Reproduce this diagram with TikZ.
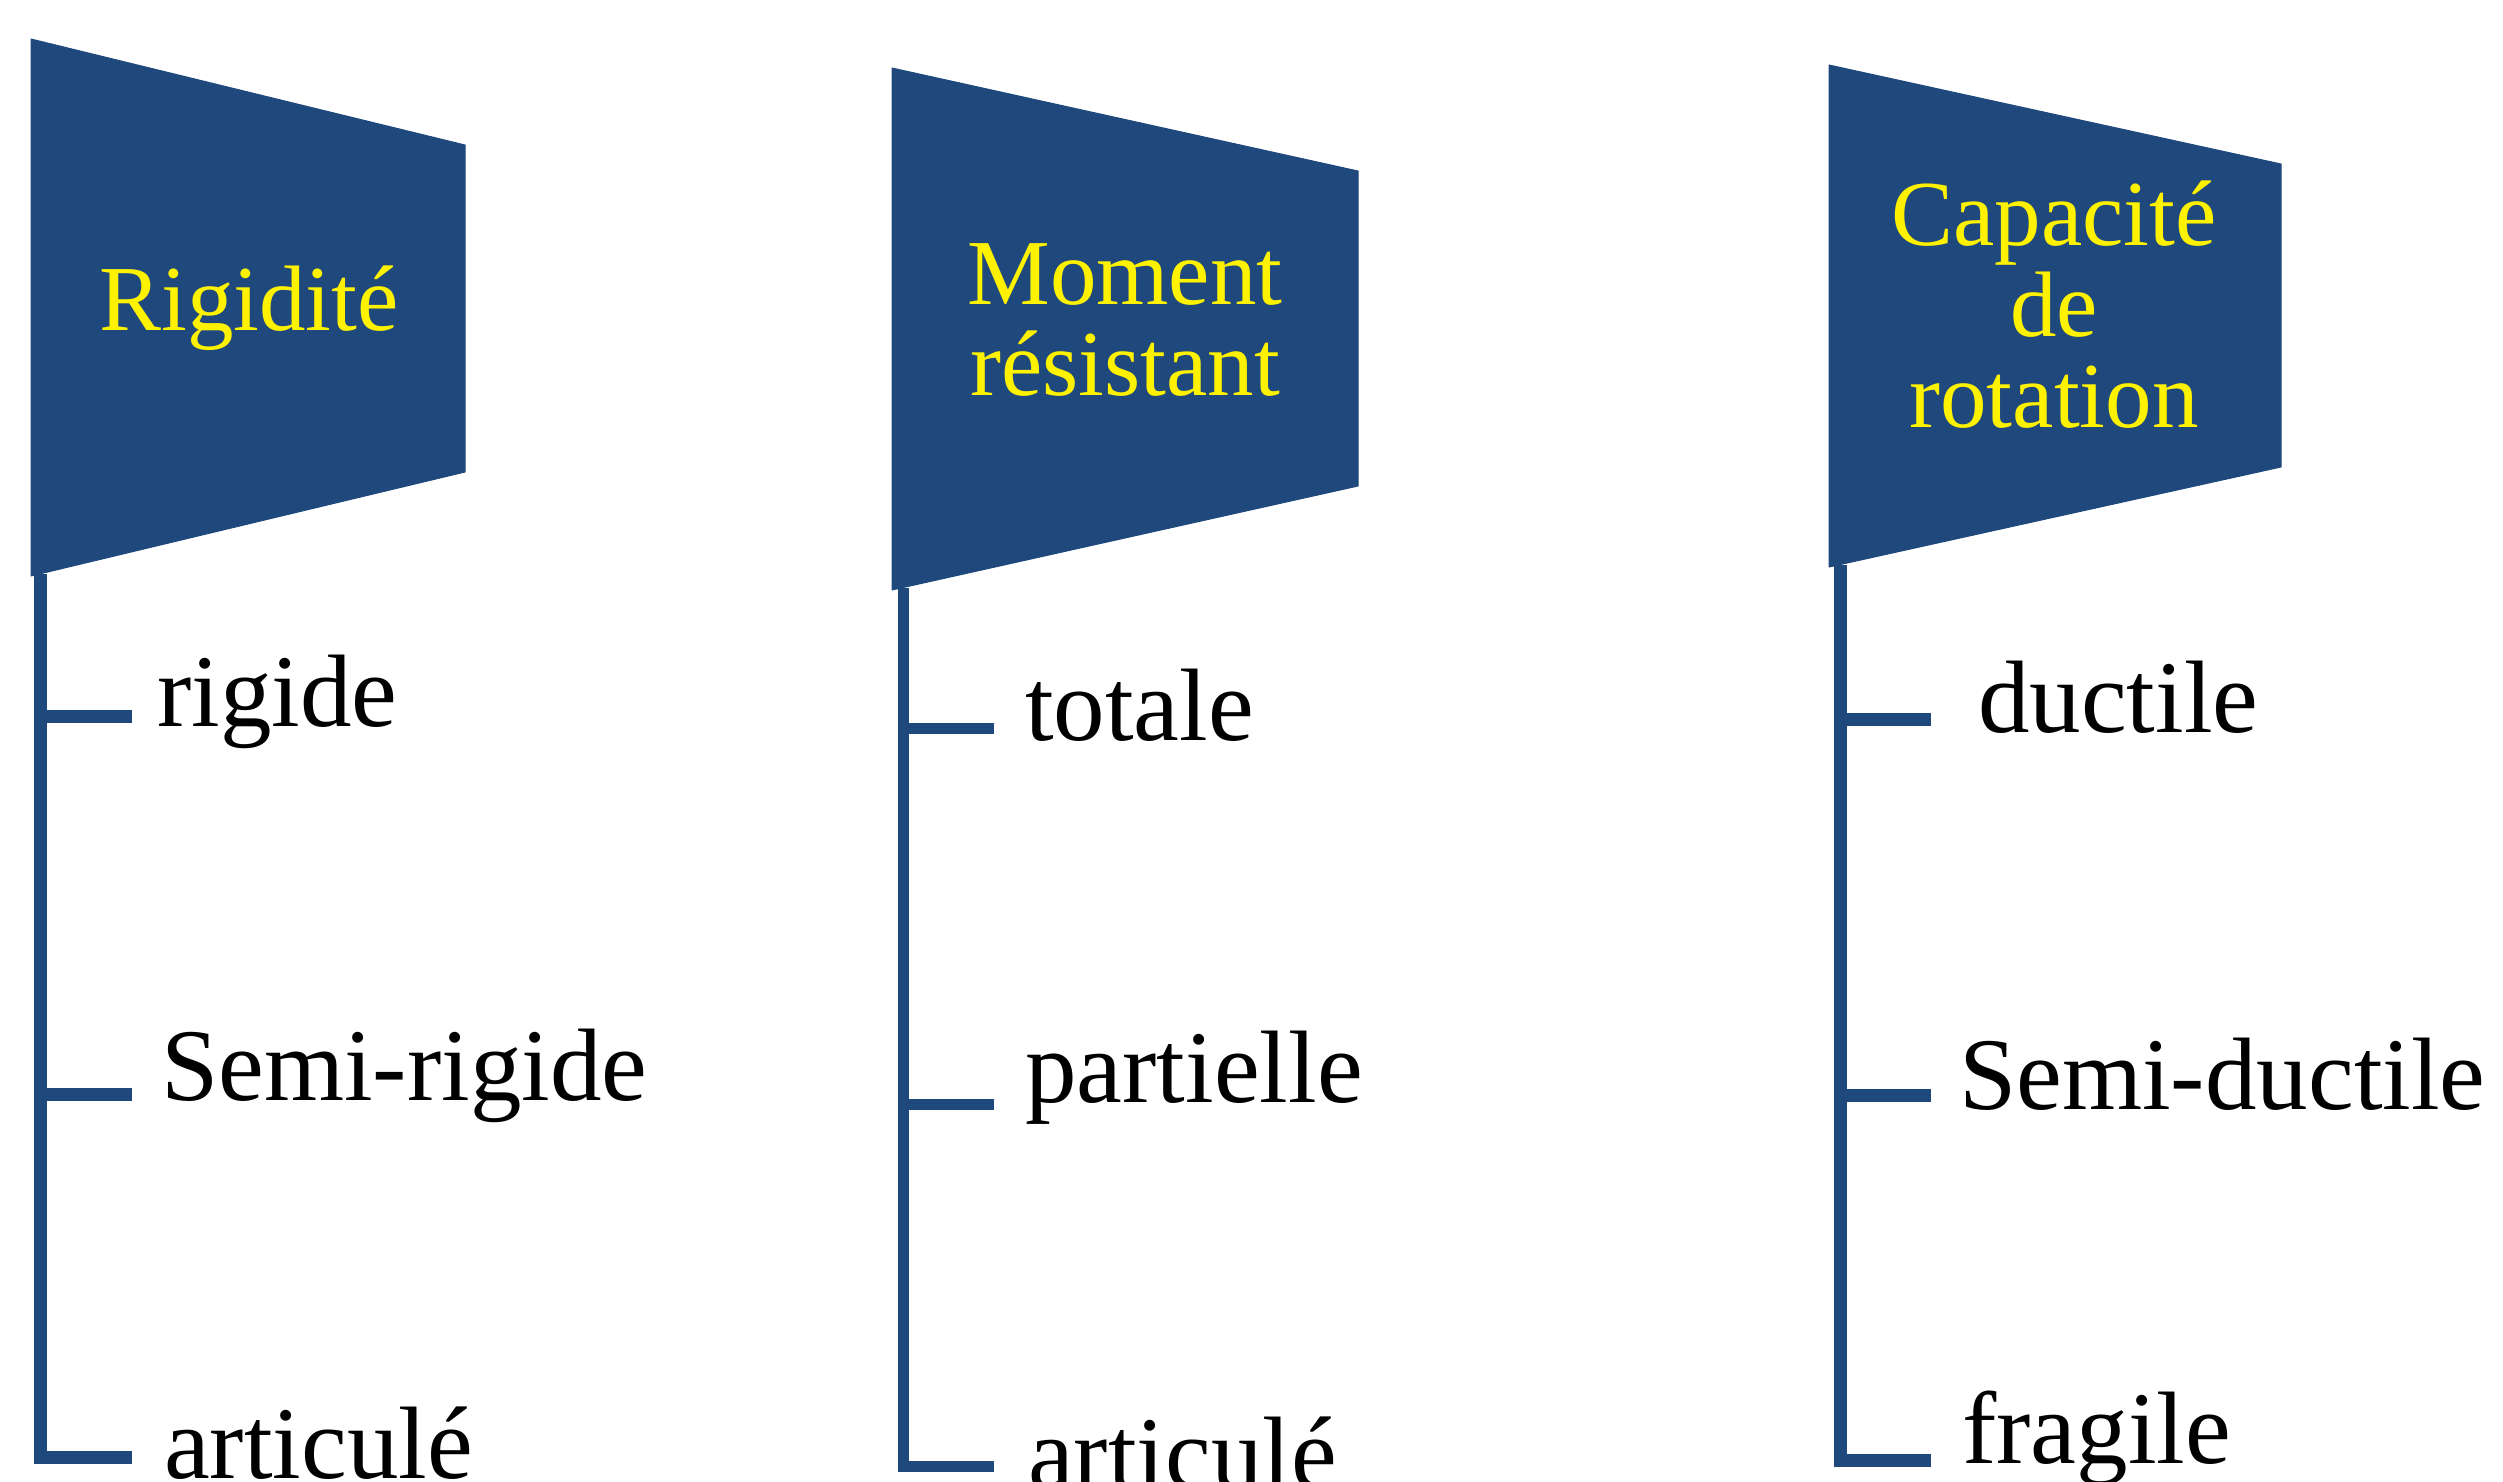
\documentclass[tikz,border=0pt]{standalone}
\usepackage{fontspec}
\setmainfont{Liberation Serif}
\definecolor{flagblue}{HTML}{1F497D}
\begin{document}
\begin{tikzpicture}[x=1pt,y=-1pt,
  flagshape/.style={fill=flagblue, draw=flagblue, line width=1pt, line join=round},
  title/.style={text=yellow, font=\fontsize{93}{91}\selectfont, align=center, inner sep=0pt},
  item/.style={text=black, font=\fontsize{103}{110}\selectfont, anchor=base west, inner sep=0pt},
  pole/.style={draw=flagblue, line width=13pt, line join=miter}]
\useasboundingbox (0,0) rectangle (2503,1481);
% ---------- column 1
\fill[flagshape] (31,39) -- (465,145) -- (465,472) -- (31,576) -- cycle;
\node[title, anchor=base] (t1) at (249,330) {Rigidité};
\coordinate (p1) at (40.5,574);
\coordinate (k1a) at (132,716);
\coordinate (k1b) at (132,1094);
\coordinate (k1c) at (132,1457);
\draw[pole] (p1) |- (k1c);
\draw[pole] (p1 |- k1a) -- (k1a);
\draw[pole] (p1 |- k1b) -- (k1b);
\node[item] (r1) at (157,726) {rigide};
\node[item] (s1) at (161,1100) {Semi-rigide};
\node[item] (a1) at (164,1478) {articulé};
% ---------- column 2
\fill[flagshape] (892,68) -- (1358,171) -- (1358,486) -- (892,590) -- cycle;
\node[title] (t2) at (1125,320) {Moment\\résistant};
\coordinate (p2) at (903,588);
\coordinate (k2a) at (994,728);
\coordinate (k2b) at (994,1104);
\coordinate (k2c) at (994,1466);
\draw[pole, line width=11pt] (p2) |- (k2c);
\draw[pole, line width=11pt] (p2 |- k2a) -- (k2a);
\draw[pole, line width=11pt] (p2 |- k2b) -- (k2b);
\node[item] (r2) at (1025,740) {totale};
\node[item] (s2) at (1025,1102) {partielle};
\node[item] (a2) at (1028,1488) {articulé};
% ---------- column 3
\fill[flagshape] (1829,65) -- (2281,164) -- (2281,467) -- (1829,567) -- cycle;
\node[title] (t3) at (2054,305) {Capacité\\de\\rotation};
\coordinate (p3) at (1840,565);
\coordinate (k3a) at (1931,719);
\coordinate (k3b) at (1931,1095);
\coordinate (k3c) at (1931,1460);
\draw[pole] (p3) |- (k3c);
\draw[pole] (p3 |- k3a) -- (k3a);
\draw[pole] (p3 |- k3b) -- (k3b);
\node[item] (r3) at (1978,732) {ductile};
\node[item] (s3) at (1959,1109) {Semi-ductile};
\node[item] (a3) at (1962,1463) {fragile};
\end{tikzpicture}
\end{document}
